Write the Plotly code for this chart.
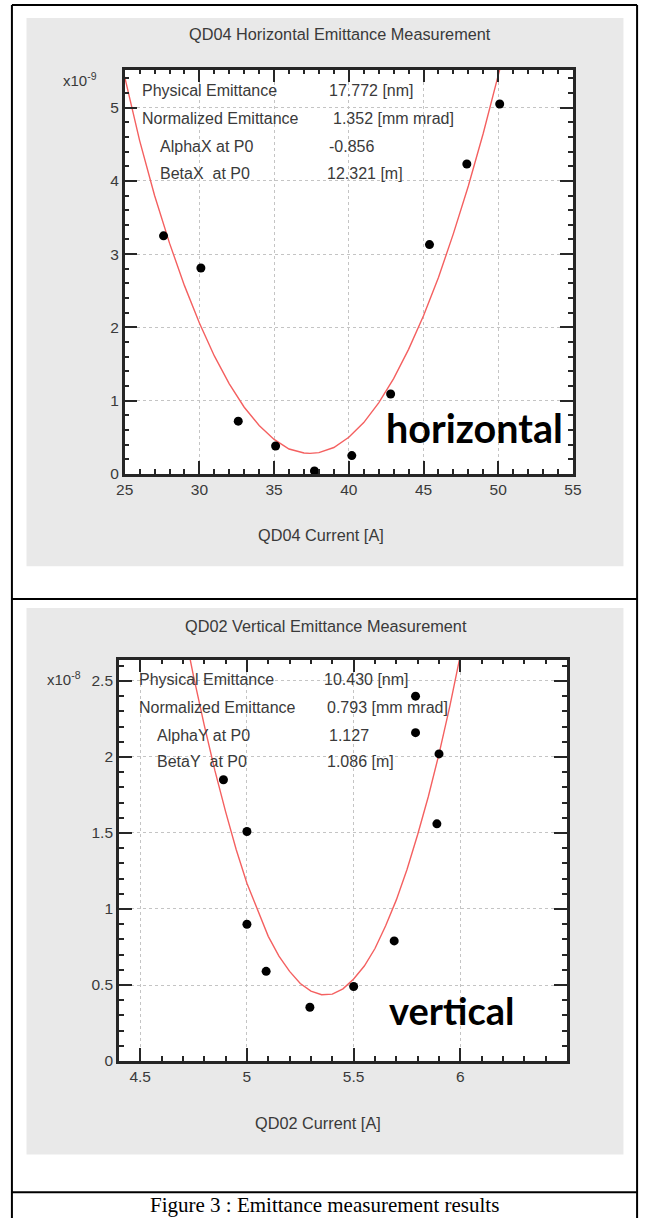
import plotly.graph_objects as go

W, H = 649, 1226

# ---------------- data: horizontal (QD04) ----------------
h_current = [27.6, 30.1, 32.6, 35.1, 37.7, 40.2, 42.8, 45.4, 47.9, 50.1]
h_size = [3.25, 2.81, 0.72, 0.38, 0.04, 0.25, 1.09, 3.13, 4.23, 5.05]
h_fit_current = [25, 26, 27, 28, 29, 30, 31, 32, 33, 34, 35, 36, 37, 37.4, 38, 39,
                 40, 41, 42, 43, 44, 45, 46, 47, 48, 49, 50, 50.2]
h_fit_size = [5.42, 4.55, 3.80, 3.15, 2.57, 2.06, 1.61, 1.23, 0.91, 0.66, 0.47, 0.34,
              0.285, 0.28, 0.29, 0.36, 0.50, 0.70, 0.97, 1.30, 1.70, 2.16, 2.68, 3.28,
              3.93, 4.65, 5.44, 5.60]
h_params = ["Physical Emittance", "Normalized Emittance", "AlphaX at P0", "BetaX\u00a0 at P0"]
h_values = ["17.772 [nm]", "1.352 [mm mrad]", "-0.856", "12.321 [m]"]
h_xticks = [25, 30, 35, 40, 45, 50, 55]
h_yticks = [0, 1, 2, 3, 4, 5]

# ---------------- data: vertical (QD02) ----------------
v_current = [4.89, 5.00, 5.00, 5.09, 5.295, 5.50, 5.69, 5.79, 5.79, 5.89, 5.90]
v_size = [1.85, 1.51, 0.90, 0.59, 0.354, 0.49, 0.79, 2.40, 2.16, 1.56, 2.02]
v_fit_current = [4.72, 4.75, 4.80, 4.85, 4.90, 4.95, 5.00, 5.05, 5.10, 5.15, 5.20, 5.25,
                 5.30, 5.35, 5.40, 5.45, 5.50, 5.55, 5.60, 5.65, 5.70, 5.75, 5.80, 5.85,
                 5.90, 5.95, 6.00]
v_fit_size = [2.74, 2.53, 2.21, 1.91, 1.64, 1.39, 1.17, 0.99, 0.82, 0.69, 0.59, 0.51,
              0.46, 0.436, 0.44, 0.475, 0.54, 0.625, 0.74, 0.89, 1.06, 1.26, 1.49, 1.74,
              2.02, 2.33, 2.67]
v_params = ["Physical Emittance", "Normalized Emittance", "AlphaY at P0", "BetaY\u00a0 at P0"]
v_values = ["10.430 [nm]", "0.793 [mm mrad]", "1.127", "1.086 [m]"]
v_xticks = [4.5, 5, 5.5, 6]
v_yticks = [0, 0.5, 1, 1.5, 2, 2.5]


def px(x):
    return x / W


def py(y):
    return 1 - y / H


FONT = "Liberation Sans, Arial, sans-serif"
TXT = "#3a3a3a"
AXC = "#262626"
RED = "#f46060"

fig = go.Figure()

fig.add_trace(go.Scatter(x=h_fit_current, y=h_fit_size, mode="lines",
                         line=dict(color=RED, width=1.4), xaxis="x", yaxis="y",
                         showlegend=False, hoverinfo="skip"))
fig.add_trace(go.Scatter(x=h_current, y=h_size, mode="markers",
                         marker=dict(color="black", size=9), xaxis="x", yaxis="y",
                         showlegend=False))
fig.add_trace(go.Scatter(x=v_fit_current, y=v_fit_size, mode="lines",
                         line=dict(color=RED, width=1.4), xaxis="x2", yaxis="y2",
                         showlegend=False, hoverinfo="skip"))
fig.add_trace(go.Scatter(x=v_current, y=v_size, mode="markers",
                         marker=dict(color="black", size=9), xaxis="x2", yaxis="y2",
                         showlegend=False))


def axis_style(domain, rng, tickvals, minor_dtick, minor_tick0, anchor):
    return dict(
        domain=domain, range=rng, anchor=anchor,
        tickmode="array", tickvals=tickvals,
        ticks="inside", ticklen=13, tickwidth=2, tickcolor=AXC,
        showline=True, linecolor=AXC, linewidth=2.5, mirror="ticks",
        showgrid=True, gridcolor="#c4c4c4", griddash="dot", gridwidth=1,
        zeroline=False,
        tickfont=dict(family=FONT, size=15.5, color=TXT),
        minor=dict(dtick=minor_dtick, tick0=minor_tick0, ticks="inside", ticklen=5,
                   tickwidth=2, tickcolor=AXC, showgrid=False),
    )


layout = dict(
    width=W, height=H, margin=dict(l=0, r=0, t=0, b=0),
    paper_bgcolor="white", plot_bgcolor="white", showlegend=False,
    xaxis=axis_style([px(119), px(580)], [25, 55], h_xticks, 1, 25, "y"),
    yaxis=axis_style([py(477), py(70)], [0, 5.52], h_yticks, 0.2, 0, "x"),
    xaxis2=axis_style([px(113), px(574)], [4.4, 6.5], v_xticks, 0.1, 4.4, "y2"),
    yaxis2=axis_style([py(1068), py(664)], [0, 2.64], v_yticks, 0.1, 0, "x2"),
)
fig.update_layout(**layout)

shapes = []
# gray panels
for (x0, y0, x1, y1) in [(18, 18, 632, 570), (18, 612, 632, 1162)]:
    shapes.append(dict(type="rect", xref="paper", yref="paper", layer="below",
                       x0=px(x0), x1=px(x1), y0=py(y1), y1=py(y0),
                       fillcolor="#e9e9e9", line=dict(width=0)))
# white plot areas
for (x0, y0, x1, y1) in [(119, 70, 580, 477), (113, 664, 574, 1068)]:
    shapes.append(dict(type="rect", xref="paper", yref="paper", layer="below",
                       x0=px(x0), x1=px(x1), y0=py(y1), y1=py(y0),
                       fillcolor="white", line=dict(width=0)))
# table borders
for (x0, y0, x1, y1) in [(3, 5, 3, 1226), (646, 5, 646, 1226), (3, 5, 646, 5),
                         (3, 603, 646, 603), (3, 1200, 646, 1200)]:
    shapes.append(dict(type="line", xref="paper", yref="paper", layer="above",
                       x0=px(x0), x1=px(x1), y0=py(y0), y1=py(y1),
                       line=dict(color="black", width=2)))
fig.update_layout(shapes=shapes)

ann = []


def text(x, y, s, size=16, anchor="left", family=FONT, color=TXT):
    ann.append(dict(x=px(x), y=py(y), xref="paper", yref="paper", text=s,
                    showarrow=False, xanchor=anchor, yanchor="middle",
                    font=dict(family=family, size=size, color=color)))


# titles
text(340, 34, "QD04 Horizontal Emittance Measurement", 16.3, "center")
text(326, 630, "QD02 Vertical Emittance Measurement", 16.3, "center")
text(321, 539, "QD04 Current [A]", 16.3, "center")
text(318, 1130, "QD02 Current [A]", 16.3, "center")
# exponents
text(73, 80, "x10<sup>-9</sup>", 15, "center")
text(57, 683, "x10<sup>-8</sup>", 15, "center")

# parameter boxes
for i, (name, val) in enumerate(zip(h_params, h_values)):
    yy = [91, 119, 147, 175][i]
    text([135, 135, 153, 153][i], yy, name, 16)
    text([327, 331, 327, 325][i], yy, val, 16)
for i, (name, val) in enumerate(zip(v_params, v_values)):
    yy = [684, 712, 740, 767][i]
    text([132, 132, 150, 150][i], yy, name, 16)
    text([322, 325, 327, 325][i], yy, val, 16)

# big labels
text(479, 430, "<b>horizontal</b>", 39.5, "center", "Lato, Open Sans, sans-serif", "black")
text(455, 1017, "<b>vertical</b>", 38, "center", "Lato, Open Sans, sans-serif", "black")

# caption
text(325, 1213, "Figure 3 : Emittance measurement results", 21, "center",
     "Liberation Serif, Times New Roman, serif", "black")

fig.update_layout(annotations=ann)
fig.write_html("out.html")
